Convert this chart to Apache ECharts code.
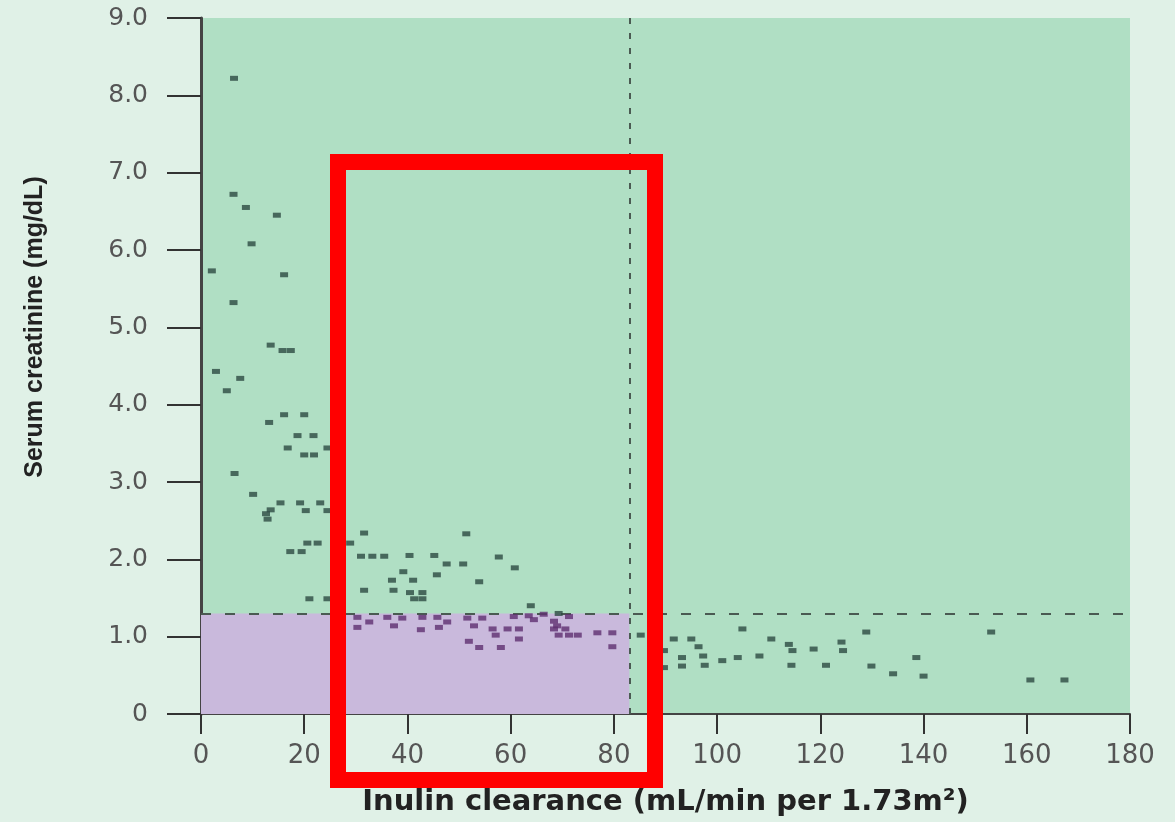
<!DOCTYPE html>
<html>
<head>
<meta charset="utf-8">
<title>Serum creatinine vs inulin clearance</title>
<script src="https://cdn.jsdelivr.net/npm/echarts@6/dist/echarts.min.js"></script>
<style>
    html, body { margin: 0; padding: 0; background: #e0f1e7; }
    #main_chart { width: 1175px; height: 822px; }
</style>
</head>
<body>
<div id="main_chart"></div>
<script>
    // inulin clearance (x) and serum creatinine (y)
    var highCreatinine = [
        [6.4, 8.22], [6.3, 6.72], [8.7, 6.55], [14.7, 6.45], [9.8, 6.08], [2.1, 5.73], [16.1, 5.68],
        [6.3, 5.32], [13.5, 4.77], [15.8, 4.70], [17.4, 4.70], [2.9, 4.43], [7.6, 4.34], [5.0, 4.18],
        [16.1, 3.87], [20.0, 3.87], [13.2, 3.77], [18.7, 3.60], [21.8, 3.60], [16.8, 3.44], [24.5, 3.44],
        [20.0, 3.35], [21.9, 3.35], [6.5, 3.11], [10.1, 2.84], [15.4, 2.73], [19.2, 2.73], [23.1, 2.73],
        [20.3, 2.63], [24.5, 2.63], [13.5, 2.64], [12.6, 2.59], [12.9, 2.52], [20.6, 2.21], [22.6, 2.21],
        [17.3, 2.10], [19.5, 2.10], [21.0, 1.49], [24.5, 1.49]
    ];
    var midCreatinine = [
        [28.9, 2.21], [31.6, 2.34], [31.0, 2.04], [33.2, 2.04], [35.5, 2.04], [40.4, 2.05], [45.2, 2.05],
        [51.4, 2.33], [57.7, 2.03], [47.6, 1.94], [50.8, 1.94], [60.8, 1.89], [39.2, 1.84], [37.0, 1.73],
        [41.1, 1.73], [45.7, 1.80], [53.9, 1.71], [31.6, 1.60], [37.3, 1.60], [40.5, 1.57], [42.9, 1.57],
        [41.3, 1.49], [42.9, 1.49], [63.9, 1.40]
    ];
    var normalCreatinineLowGfr = [
        [30.3, 1.25], [36.1, 1.25], [39.0, 1.24], [42.9, 1.25], [45.8, 1.25], [51.6, 1.24], [54.5, 1.24],
        [60.6, 1.26], [63.5, 1.27], [66.4, 1.29], [69.3, 1.30], [71.3, 1.26], [32.6, 1.19], [37.4, 1.14],
        [46.1, 1.12], [47.7, 1.19], [52.9, 1.14], [64.5, 1.22], [68.4, 1.20], [69.0, 1.14], [30.3, 1.12],
        [42.6, 1.09], [56.5, 1.10], [59.4, 1.10], [61.6, 1.10], [57.1, 1.02], [68.4, 1.10], [70.6, 1.10],
        [69.3, 1.02], [71.3, 1.02], [73.0, 1.02], [76.8, 1.05], [79.7, 1.05], [61.6, 0.97], [51.9, 0.94],
        [53.9, 0.86], [58.1, 0.86], [79.7, 0.87]
    ];
    var normalGfr = [
        [85.2, 1.02], [89.7, 0.82], [89.7, 0.60], [91.6, 0.97], [95.0, 0.97], [96.4, 0.87], [93.2, 0.73],
        [97.3, 0.75], [93.2, 0.62], [97.6, 0.63], [101.0, 0.69], [104.0, 0.73], [104.9, 1.10], [108.2, 0.75],
        [110.5, 0.97], [113.9, 0.90], [114.6, 0.82], [114.4, 0.63], [118.7, 0.84], [121.1, 0.63], [124.1, 0.93],
        [124.4, 0.82], [128.9, 1.06], [129.9, 0.62], [134.1, 0.52], [138.6, 0.73], [140.0, 0.49], [153.1, 1.06],
        [160.7, 0.44], [167.3, 0.44]
    ];

    var creatinineCutoff = 1.3;   // horizontal dashed line
    var clearanceCutoff = 83;     // vertical dashed line

    var allPoints = highCreatinine.concat(midCreatinine, normalCreatinineLowGfr, normalGfr);

    function $extend(a, b) {
        for (var k in b) { a[k] = b[k]; }
        return a;
    }

    var tickFont = { color: '#555', fontFamily: 'DejaVu Sans' };

    var chartOpt = {
        backgroundColor: '#e0f1e7',
        animation: false,
        grid: { left: 201, right: 45, top: 18, bottom: 106, show: true, backgroundColor: '#b0dfc4', borderWidth: 0 },
        xAxis: {
            type: 'value', min: 0, max: 180, interval: 20,
            name: 'Inulin clearance (mL/min per 1.73m²)',
            nameLocation: 'middle', nameGap: 74,
            nameTextStyle: { fontFamily: 'DejaVu Sans', fontWeight: 'bold', fontSize: 29, color: '#222' },
            axisLine: { lineStyle: { color: '#444', width: 2 } },
            axisTick: { length: 20, lineStyle: { color: '#333', width: 2 } },
            axisLabel: $extend({ margin: 29, fontSize: 26 }, tickFont),
            splitLine: { show: false }
        },
        yAxis: {
            type: 'value', min: 0, max: 9, interval: 1,
            name: 'Serum creatinine (mg/dL)',
            nameLocation: 'middle', nameGap: 153,
            nameTextStyle: { fontFamily: 'Liberation Sans', fontWeight: 'bold', fontSize: 25, color: '#222', padding: [0, 0, 0, 78] },
            axisLine: { lineStyle: { color: '#444', width: 3 } },
            axisTick: { length: 34, lineStyle: { color: '#333', width: 2 } },
            axisLabel: $extend({
                margin: 53, fontSize: 25,
                formatter: function (v) { return v === 0 ? '0' : v.toFixed(1); }
            }, tickFont),
            splitLine: { show: false }
        },
        series: [{
            type: 'scatter',
            symbol: 'rect',
            symbolSize: [8, 5],
            data: allPoints,
            itemStyle: {
                color: function (p) {
                    var inside = p.value[0] < clearanceCutoff && p.value[1] < creatinineCutoff;
                    return inside ? '#5f2f70' : '#2d4a42';
                }
            },
            z: 5,
            markArea: {
                silent: true,
                itemStyle: { color: '#c9b9dc' },
                data: [[{ coord: [0, 0] }, { coord: [clearanceCutoff, creatinineCutoff] }]]
            },
            markLine: {
                silent: true,
                symbol: 'none',
                label: { show: false },
                lineStyle: { color: '#4a5a52', width: 2 },
                data: [
                    [{ coord: [0, creatinineCutoff], lineStyle: { type: [10, 14] } }, { coord: [180, creatinineCutoff] }],
                    [{ coord: [clearanceCutoff, 0], lineStyle: { type: [6, 9] } }, { coord: [clearanceCutoff, 9] }]
                ]
            }
        }],
        // red highlight box drawn over the chart
        graphic: [{
            type: 'rect',
            z: 100,
            shape: { x: 338, y: 162, width: 317, height: 618 },
            style: { fill: 'none', stroke: '#ff0000', lineWidth: 16 }
        }]
    };

    var main_chart = echarts.init(document.getElementById('main_chart'));
    main_chart.setOption(chartOpt);
</script>
</body>
</html>
